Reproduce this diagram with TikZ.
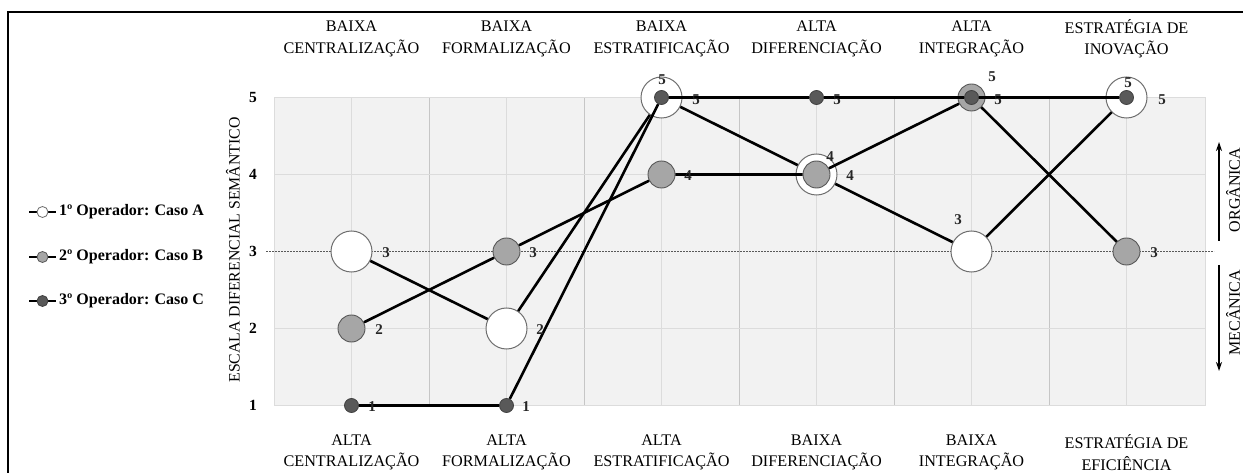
\documentclass[tikz,border=0pt]{standalone}
\usepackage{fontspec}
\setmainfont{Liberation Serif}
\usetikzlibrary{arrows.meta}
\definecolor{plotbg}{HTML}{F2F2F2}
\definecolor{gridc}{HTML}{DCDCDC}
\definecolor{gridd}{HTML}{C6C6C6}
\definecolor{grayB}{HTML}{A6A6A6}
\definecolor{darkC}{HTML}{595959}
\definecolor{edgeA}{HTML}{6F6F6F}
\tikzset{
  mkA/.style={circle, draw=edgeA, fill=white, line width=1pt, minimum size=41pt, inner sep=0pt},
  mkB/.style={circle, draw=darkC, fill=grayB, line width=0.9pt, minimum size=27pt, inner sep=0pt},
  mkC/.style={circle, draw=black!75, fill=darkC, line width=0.8pt, minimum size=14pt, inner sep=0pt},
  serline/.style={line width=2.6pt, black},
  dlab/.style={font=\fontsize{15}{15}\selectfont\bfseries, text=black!85, inner sep=0pt},
  axlab/.style={font=\fontsize{16.2}{21.5}\selectfont, align=center, inner sep=0pt},
  ticklab/.style={font=\fontsize{15.5}{15.5}\selectfont\bfseries, inner sep=0pt},
  sidelab/.style={font=\fontsize{16}{16}\selectfont, rotate=90, inner sep=0pt},
  legtext/.style={font=\fontsize{16}{16}\selectfont\bfseries, anchor=west, inner sep=0pt},
  legA/.style={circle, draw=edgeA, fill=white, line width=0.8pt, minimum size=11pt, inner sep=0pt},
  legB/.style={circle, draw=darkC, fill=grayB, line width=0.8pt, minimum size=11pt, inner sep=0pt},
  legC/.style={circle, draw=black!75, fill=darkC, line width=0.8pt, minimum size=11pt, inner sep=0pt},
  legline/.style={line width=2.2pt, black},
  sidearrow/.style={line width=1.3pt, -{Stealth[length=9pt,width=6pt]}}
}
\begin{document}
\begin{tikzpicture}[x=1pt,y=-1pt]
\useasboundingbox (0,0) rectangle (1243,473);
% frame
\draw[line width=1.5pt] (8,473) -- (8,12) -- (1243,12);
% plot area
\fill[plotbg] (274,97.5) rectangle (1205,405.5);
\foreach \i in {0,...,5} {\draw[gridc, line width=1pt] ({351.5+155*\i},97.5) -- ({351.5+155*\i},405.5);}
\foreach \i in {1,...,5} {\draw[gridd, line width=1pt] ({274+155*\i},97.5) -- ({274+155*\i},405.5);}
\foreach \yy in {174.5,328.5} {\draw[gridc, line width=1pt] (274,\yy) -- (1205,\yy);}
\draw[gridc, line width=1pt] (274,97.5) rectangle (1205,405.5);
\draw[darkC, line width=0.8pt, dash pattern=on 2pt off 1pt] (266,251.5) -- (1214,251.5);
% y axis
\node[sidelab, font=\fontsize{15.8}{15.8}\selectfont] (ylab) at (233,250) {ESCALA DIFERENCIAL SEMÂNTICO};
\node[ticklab] (t5) at (253,97.5) {5};
\node[ticklab] (t4) at (253,174.5) {4};
\node[ticklab] (t3) at (253,251.5) {3};
\node[ticklab] (t2) at (253,328.5) {2};
\node[ticklab] (t1) at (253,405.5) {1};
% top labels
\node[axlab] (top1) at (351.5,39) {BAIXA\\CENTRALIZAÇÃO};
\node[axlab] (top2) at (506.5,39) {BAIXA\\FORMALIZAÇÃO};
\node[axlab] (top3) at (661.5,39) {BAIXA\\ESTRATIFICAÇÃO};
\node[axlab] (top4) at (816.5,39) {ALTA\\DIFERENCIAÇÃO};
\node[axlab] (top5) at (971.5,39) {ALTA\\INTEGRAÇÃO};
\node[axlab] (top6) at (1126.5,39) {ESTRATÉGIA DE\\INOVAÇÃO};
% bottom labels
\node[axlab] (bot1) at (351.5,452.5) {ALTA\\CENTRALIZAÇÃO};
\node[axlab] (bot2) at (506.5,452.5) {ALTA\\FORMALIZAÇÃO};
\node[axlab] (bot3) at (661.5,452.5) {ALTA\\ESTRATIFICAÇÃO};
\node[axlab] (bot4) at (816.5,452.5) {BAIXA\\DIFERENCIAÇÃO};
\node[axlab] (bot5) at (971.5,452.5) {BAIXA\\INTEGRAÇÃO};
\node[axlab] (bot6) at (1126.5,452.5) {ESTRATÉGIA DE\\EFICIÊNCIA};
% side arrows
\coordinate (oT) at (1219,142);
\coordinate (oB) at (1219,241);
\coordinate (mT) at (1219,265);
\coordinate (mB) at (1219,371);
\draw[sidearrow] (oB) -- (oT);
\draw[sidearrow] (mT) -- (mB);
\node[sidelab] (org) at (1233,190) {ORGÂNICA};
\node[sidelab] (mec) at (1233,313) {MECÂNICA};
% series A
\node[mkA] (A1) at (351.5,251.5) {};
\node[mkA] (A2) at (506.5,328.5) {};
\node[mkA] (A3) at (661.5,97.5) {};
\node[mkA] (A4) at (816.5,174.5) {};
\node[mkA] (A5) at (971.5,251.5) {};
\node[mkA] (A6) at (1126.5,97.5) {};
\draw[serline] (A1) -- (A2) -- (A3) -- (A4) -- (A5) -- (A6);
% series B
\node[mkB] (B1) at (351.5,328.5) {};
\node[mkB] (B2) at (506.5,251.5) {};
\node[mkB] (B3) at (661.5,174.5) {};
\node[mkB] (B4) at (816.5,174.5) {};
\node[mkB] (B5) at (971.5,97.5) {};
\node[mkB] (B6) at (1126.5,251.5) {};
\draw[serline] (B1) -- (B2) -- (B3) -- (B4) -- (B5) -- (B6);
% series C
\node[mkC] (C1) at (351.5,405.5) {};
\node[mkC] (C2) at (506.5,405.5) {};
\node[mkC] (C3) at (661.5,97.5) {};
\node[mkC] (C4) at (816.5,97.5) {};
\node[mkC] (C5) at (971.5,97.5) {};
\node[mkC] (C6) at (1126.5,97.5) {};
\draw[serline] (C1) -- (C2) -- (C3) -- (C4) -- (C5) -- (C6);
% data labels A
\node[dlab] (lA1) at (386,253) {3};
\node[dlab] (lA2) at (540,330) {2};
\node[dlab] (lA3) at (662,80) {5};
\node[dlab] (lA4) at (830,157) {4};
\node[dlab] (lA5) at (958,220) {3};
\node[dlab] (lA6) at (1128,83) {5};
% data labels B
\node[dlab] (lB1) at (379,330) {2};
\node[dlab] (lB2) at (533,253) {3};
\node[dlab] (lB3) at (688,176) {4};
\node[dlab] (lB4) at (850,176) {4};
\node[dlab] (lB5) at (992,77) {5};
\node[dlab] (lB6) at (1154,253) {3};
% data labels C
\node[dlab] (lC1) at (372,407) {1};
\node[dlab] (lC2) at (526,407) {1};
\node[dlab] (lC3) at (696,100) {5};
\node[dlab] (lC4) at (837,100) {5};
\node[dlab] (lC5) at (998,100) {5};
\node[dlab] (lC6) at (1162,100) {5};
% legend
\coordinate (gA0) at (29,212); \coordinate (gA1) at (56,212);
\coordinate (gB0) at (29,257); \coordinate (gB1) at (56,257);
\coordinate (gC0) at (29,301); \coordinate (gC1) at (56,301);
\draw[legline] (gA0) -- (gA1);
\draw[legline] (gB0) -- (gB1);
\draw[legline] (gC0) -- (gC1);
\node[legA] (mA) at (42.5,212) {};
\node[legB] (mB2) at (42.5,257) {};
\node[legC] (mC) at (42.5,301) {};
\node[legtext] (tA) at (59,212) {1º Operador: Caso A};
\node[legtext] (tB) at (59,257) {2º Operador: Caso B};
\node[legtext] (tC) at (59,301) {3º Operador: Caso C};
\end{tikzpicture}
\end{document}
